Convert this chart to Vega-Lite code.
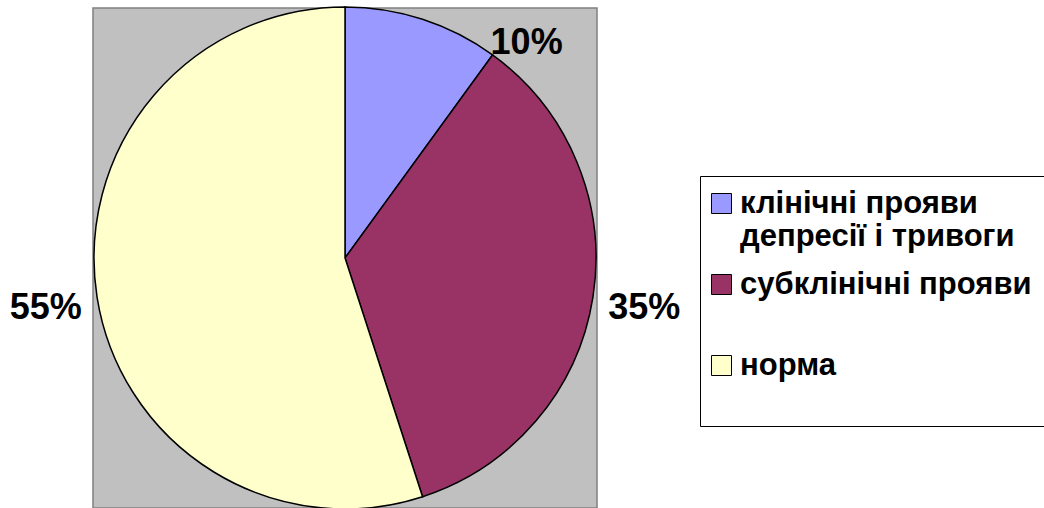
{
  "$schema": "https://vega.github.io/schema/vega-lite/v6.json",
  "width": 504,
  "height": 500,
  "autosize": {"type": "none"},
  "padding": {"left": 93, "top": 8, "right": 447, "bottom": 0},
  "background": "white",
  "view": {"fill": "#C0C0C0", "stroke": "#808080", "strokeWidth": 1.5},
  "config": {
    "view": {"fill": "#C0C0C0", "stroke": "#808080", "strokeWidth": 1.5},
    "font": "Liberation Sans"
  },
  "data": {
    "values": [
      {"k": 1, "category": "клінічні прояви депресії і тривоги", "value": 10, "label": "10%"},
      {"k": 2, "category": "субклінічні прояви", "value": 35, "label": "35%"},
      {"k": 3, "category": "норма", "value": 55, "label": "55%"}
    ]
  },
  "encoding": {
    "theta": {"field": "value", "type": "quantitative", "stack": true},
    "order": {"field": "k", "type": "quantitative"}
  },
  "layer": [
    {
      "mark": {"type": "arc", "radius": 251, "stroke": "black", "strokeWidth": 1.5},
      "encoding": {
        "color": {
          "field": "category",
          "type": "nominal",
          "scale": {
            "domain": ["клінічні прояви депресії і тривоги", "субклінічні прояви", "норма"],
            "range": ["#9999FF", "#993366", "#FFFFCC"]
          },
          "legend": {
            "title": null,
            "orient": "none",
            "legendX": 607,
            "legendY": 168,
            "padding": 12,
            "strokeColor": "black",
            "fillColor": "white",
            "labelFont": "Liberation Sans",
            "labelFontSize": 31,
            "labelFontWeight": "bold",
            "labelColor": "black",
            "labelLimit": 0,
            "labelOffset": 3,
            "symbolOffset": -6,
            "rowPadding": 16,
            "symbolType": "square",
            "symbolSize": 400,
            "symbolStrokeColor": "black",
            "symbolStrokeWidth": 1,
            "symbolOpacity": 1,
            "labelExpr": "datum.label == 'клінічні прояви депресії і тривоги' ? ['клінічні прояви', 'депресії і тривоги'] : datum.label == 'субклінічні прояви' ? ['субклінічні прояви', ''] : ['норма', '']"
          }
        }
      }
    },
    {
      "mark": {"type": "text", "radius": 303, "dy": 3, "fontSize": 36, "fontWeight": "bold", "font": "Liberation Sans", "color": "black"},
      "encoding": {"text": {"condition": {"test": "datum.k == 1", "value": ""}, "field": "label"}}
    },
    {
      "mark": {"type": "text", "radius": 303, "dx": 88, "dy": 73, "fontSize": 36, "fontWeight": "bold", "font": "Liberation Sans", "color": "black"},
      "encoding": {"text": {"condition": {"test": "datum.k != 1", "value": ""}, "field": "label"}}
    }
  ]
}
